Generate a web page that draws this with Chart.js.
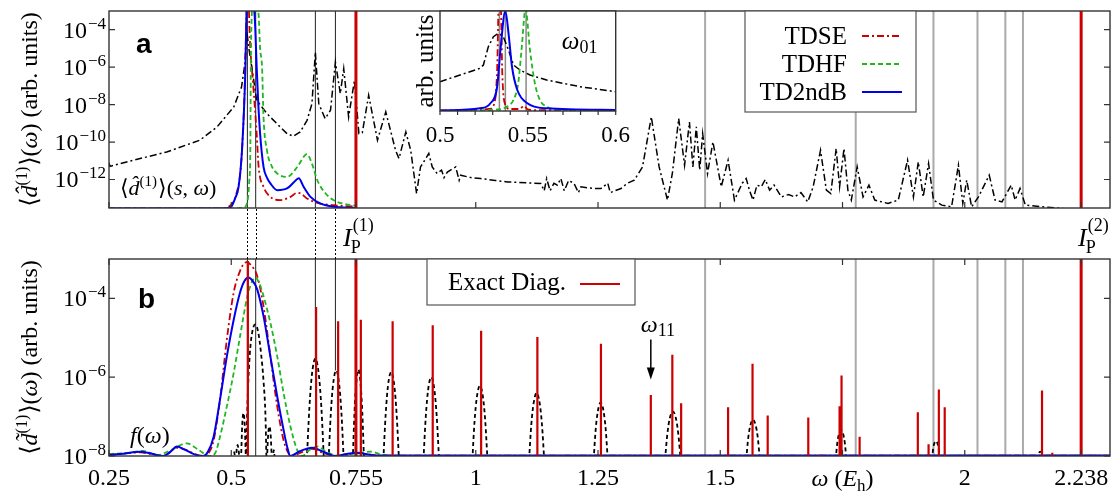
<!DOCTYPE html>
<html>
<head>
<meta charset="utf-8">
<title>Spectres dipolaires</title>
<script src="https://cdn.jsdelivr.net/npm/chart.js@4.4.1/dist/chart.umd.min.js"></script>
<style>
  html, body { margin: 0; padding: 0; background: #fff; }
  #figure { position: relative; width: 1113px; height: 497px; overflow: hidden; }
  #figure canvas { position: absolute; }
</style>
</head>
<body>
<div id="figure">
  <canvas id="panelB" width="1113" height="247" style="left:0;top:250px"></canvas>
  <canvas id="panelA" width="1113" height="259" style="left:0;top:0"></canvas>
  <canvas id="inset" width="250" height="165" style="left:390px;top:0"></canvas>
</div>
<script>
// axe des énergies, commun aux deux panneaux
const xMin = 0.25, xMax = 2.297;
const xTicks = [0.25, 0.5, 0.755, 1, 1.25, 1.5, 1.75, 2, 2.238];
const xTickLabels = ['0.25', '0.5', '0.755', '1', '1.25', '1.5', '', '2', '2.238'];

// bornes et graduations verticales
const yMinA = 3e-14, yMaxA = 1e-3;
const yTicksA = [1e-12, 1e-10, 1e-8, 1e-6, 1e-4];
const yMinB = 1e-8, yMaxB = 1e-3;
const yTicksB = [1e-8, 1e-6, 1e-4];

// lignes verticales (énergies de transition, seuils)
const levelLines = [0.533, 0.550, 0.672, 0.713];
const levelEndsB = [1e-8, 1e-8, 2.95e-6, 1.48e-6];
const greyLines = [1.469, 1.777, 1.936, 2.026, 2.083, 2.119];
const ipLines = [0.755, 2.238];
const ipLabelX = [0.7285, 2.2316];
const ipLabelSup = ['(1)', '(2)'];

// panneau a : [omega, log10 <d>]
const sCurveA = [
  [0.25,-11.1],[0.252,-11.3],[0.300,-10.97],[0.368,-10.53],[0.436,-9.90],[0.471,-9.19],[0.505,-8.13],
  [0.521,-7.06],[0.528,-5.8],[0.532,-4.1],[0.536,-5.0],[0.542,-6.0],[0.552,-7.77],[0.573,-8.48],
  [0.593,-9.01],[0.614,-9.55],[0.627,-9.69],[0.641,-9.46],[0.655,-8.84],[0.665,-7.95],[0.672,-5.2],
  [0.679,-7.95],[0.692,-8.75],[0.703,-8.30],[0.713,-5.73],[0.723,-7.41],[0.730,-6.08],[0.740,-8.66],
  [0.752,-6.70],[0.761,-9.55],[0.768,-9.5],[0.781,-7.50],[0.799,-9.90],[0.816,-8.39],[0.836,-10.44],
  [0.843,-10.88],[0.857,-9.46],[0.867,-10.44],[0.873,-11.6],[0.879,-12.75],[0.887,-11.33],[0.895,-11.0],
  [0.904,-10.61],[0.911,-11.33],[0.921,-11.68],[0.930,-11.5],[0.935,-11.9],[0.942,-11.6],[0.959,-11.33],
  [0.966,-12.04],[0.969,-11.77],[0.990,-11.9],[1.010,-11.95],[1.040,-12.05],[1.065,-12.13],[1.106,-12.18],
  [1.133,-12.21],[1.140,-12.6],[1.145,-11.95],[1.152,-12.6],[1.160,-12.2],[1.167,-12.30],[1.174,-11.95],
  [1.181,-12.6],[1.190,-12.05],[1.201,-12.21],[1.210,-12.7],[1.215,-12.39],[1.240,-12.48],[1.256,-12.48],
  [1.270,-12.2],[1.275,-12.7],[1.297,-12.48],[1.310,-12.2],[1.324,-12.04],[1.341,-11.33],[1.359,-8.66],
  [1.375,-11.33],[1.392,-13.1],[1.402,-11.68],[1.415,-8.75],[1.427,-11.24],[1.437,-8.93],[1.444,-11.33],
  [1.451,-9.19],[1.458,-11.5],[1.464,-9.55],[1.474,-11.68],[1.485,-9.99],[1.502,-12.39],[1.516,-10.97],
  [1.529,-13.1],[1.545,-12.2],[1.553,-11.95],[1.560,-12.6],[1.567,-13.1],[1.575,-12.3],[1.584,-12.39],
  [1.592,-12.0],[1.601,-12.57],[1.610,-12.3],[1.625,-12.93],[1.640,-12.8],[1.652,-12.93],[1.665,-12.7],
  [1.679,-13.2],[1.690,-12.39],[1.705,-10.44],[1.717,-12.57],[1.726,-12.75],[1.737,-10.35],[1.744,-12.39],
  [1.753,-10.35],[1.761,-12.57],[1.768,-13.1],[1.780,-11.33],[1.792,-12.93],[1.804,-12.3],[1.816,-13.1],
  [1.843,-13.28],[1.864,-13.1],[1.883,-10.97],[1.895,-12.93],[1.905,-11.06],[1.915,-12.93],[1.926,-11.15],
  [1.936,-13.1],[1.953,-13.37],[1.973,-13.46],[1.987,-11.24],[1.996,-13.28],[2.004,-12.04],[2.014,-13.46],
  [2.028,-12.93],[2.050,-11.77],[2.062,-13.1],[2.076,-13.2],[2.095,-12.3],[2.103,-13.1],[2.113,-12.48],
  [2.124,-13.37],[2.158,-13.46],[2.199,-13.55],[2.219,-13.6]
];
const tdseA = [
  [0.25,-13.55],[0.48,-13.55],[0.495,-13.45],[0.510,-12.8],[0.520,-11.2],[0.527,-7.5],[0.530,-4.5],
  [0.534,-1.5],[0.538,-4.5],[0.545,-7.0],[0.552,-9.55],[0.556,-11.33],[0.566,-12.39],[0.580,-12.93],
  [0.600,-13.1],[0.621,-12.93],[0.635,-12.71],[0.642,-12.75],[0.655,-13.01],[0.676,-13.25],[0.709,-13.37],
  [0.753,-13.45]
];
const tdhfA = [
  [0.25,-13.55],[0.50,-13.55],[0.525,-13.5],[0.533,-13.2],[0.537,-12.0],[0.539,-10.44],[0.540,-6.0],
  [0.542,-3.2],[0.549,-1.5],[0.556,-3.2],[0.559,-5.0],[0.563,-6.0],[0.566,-8.66],[0.573,-10.44],
  [0.583,-11.3],[0.594,-11.68],[0.614,-11.86],[0.635,-11.33],[0.651,-10.70],[0.655,-10.65],[0.665,-11.15],
  [0.676,-12.04],[0.693,-12.75],[0.709,-13.1],[0.730,-13.3],[0.755,-13.4]
];
const td2ndbA = [
  [0.25,-13.55],[0.48,-13.55],[0.498,-13.5],[0.508,-13.0],[0.515,-12.39],[0.522,-10.44],[0.529,-6.0],
  [0.531,-3.3],[0.537,-1.5],[0.548,-3.3],[0.552,-6.0],[0.555,-7.8],[0.559,-9.55],[0.566,-11.33],
  [0.573,-11.9],[0.580,-12.21],[0.594,-12.57],[0.614,-12.48],[0.628,-12.15],[0.638,-11.93],[0.648,-12.39],
  [0.662,-12.93],[0.682,-13.28],[0.709,-13.46],[0.753,-13.52]
];

// panneau b : [omega, log10 <d~>]
const tdseB = [
  [0.25,-7.98],[0.3135,-7.91],[0.361,-8.0],[0.389,-7.79],[0.443,-8.0],[0.455,-7.9],[0.464,-7.6],
  [0.477,-6.57],[0.491,-5.04],[0.505,-3.85],[0.518,-3.3],[0.525,-3.13],[0.532,-3.08],[0.540,-3.15],
  [0.553,-3.43],[0.566,-4.2],[0.580,-5.47],[0.594,-6.74],[0.607,-7.6],[0.617,-7.93],[0.624,-8.0],
  [0.645,-7.9],[0.665,-7.82],[0.690,-7.93],[0.712,-8.0],[0.758,-7.93],[0.800,-7.99],[2.297,-7.99]
];
const tdhfB = [
  [0.25,-7.95],[0.29,-7.92],[0.320,-7.87],[0.348,-7.98],[0.375,-7.86],[0.409,-7.68],[0.435,-7.86],
  [0.455,-8.0],[0.467,-7.93],[0.477,-7.51],[0.491,-6.74],[0.505,-5.89],[0.518,-4.96],[0.532,-4.0],
  [0.540,-3.65],[0.549,-3.47],[0.557,-3.6],[0.566,-3.94],[0.580,-4.62],[0.594,-5.47],[0.607,-6.4],
  [0.621,-7.25],[0.635,-7.85],[0.645,-8.0],[0.660,-7.85],[0.676,-7.76],[0.695,-7.9],[0.722,-8.0],
  [0.758,-7.93],[0.785,-7.89],[0.810,-7.97],[0.840,-8.0],[2.297,-7.99]
];
const td2ndbB = [
  [0.25,-7.97],[0.28,-7.94],[0.3135,-7.89],[0.34,-7.95],[0.361,-8.0],[0.375,-7.9],[0.389,-7.76],
  [0.405,-7.84],[0.425,-7.96],[0.443,-8.0],[0.452,-7.9],[0.464,-7.51],[0.477,-6.57],[0.491,-5.47],
  [0.505,-4.54],[0.518,-3.85],[0.527,-3.56],[0.535,-3.47],[0.544,-3.56],[0.553,-3.77],[0.566,-4.45],
  [0.580,-5.47],[0.594,-6.49],[0.607,-7.34],[0.615,-7.8],[0.621,-8.0],[0.640,-7.88],[0.665,-7.79],
  [0.690,-7.9],[0.713,-8.0],[0.735,-7.95],[0.758,-7.92],[0.785,-7.97],[0.805,-7.99],[1.2,-7.99],
  [1.6,-7.99],[2.0,-7.99],[2.297,-7.99]
];
// spectre fenêtré (tirets noirs), un lobe par tableau
const windowedB = [
  [[0.504,-8.1],[0.506,-7.9],[0.508,-8.1]],
  [[0.509,-8.1],[0.511,-7.85],[0.513,-7.72],[0.515,-7.85],[0.517,-8.1]],
  [[0.520,-8.1],[0.5225,-7.2],[0.525,-6.91],[0.5275,-7.2],[0.530,-8.1]],
  [[0.530,-8.1],[0.534,-6.4],[0.538,-5.4],[0.543,-4.85],[0.549,-4.66],[0.555,-4.85],[0.561,-5.4],[0.566,-6.1],[0.570,-7.0],[0.572,-8.1]],
  [[0.573,-8.1],[0.5755,-7.45],[0.578,-7.25],[0.5805,-7.45],[0.583,-8.1]],
  [[0.585,-8.1],[0.587,-7.85],[0.589,-8.1]],
  [[0.6545,-8.1],[0.6598,-6.77],[0.665,-5.93],[0.672,-5.53],[0.679,-5.93],[0.6843,-6.77],[0.6895,-8.1]],
  [[0.699,-8.1],[0.7036,-6.92],[0.7083,-6.18],[0.7145,-5.83],[0.7207,-6.18],[0.7254,-6.92],[0.730,-8.1]],
  [[0.7485,-8.1],[0.752,-6.9],[0.7555,-6.16],[0.760,-5.81],[0.7645,-6.16],[0.768,-6.9],[0.7715,-8.1]],
  [[0.811,-8.1],[0.8158,-6.94],[0.8206,-6.21],[0.827,-5.87],[0.8334,-6.21],[0.8382,-6.94],[0.843,-8.1]],
  [[0.893,-8.1],[0.8978,-7.0],[0.9026,-6.32],[0.909,-6.0],[0.9154,-6.32],[0.9202,-7.0],[0.925,-8.1]],
  [[0.993,-8.1],[0.9976,-7.11],[1.0023,-6.5],[1.0085,-6.22],[1.0147,-6.5],[1.0194,-7.11],[1.024,-8.1]],
  [[1.109,-8.1],[1.1136,-7.2],[1.1183,-6.66],[1.1245,-6.40],[1.1307,-6.66],[1.1354,-7.2],[1.140,-8.1]],
  [[1.241,-8.1],[1.2453,-7.32],[1.2497,-6.86],[1.2555,-6.64],[1.2613,-6.86],[1.2657,-7.32],[1.270,-8.1]],
  [[1.387,-8.1],[1.3918,-7.44],[1.3966,-7.05],[1.403,-6.87],[1.4094,-7.05],[1.4142,-7.44],[1.419,-8.1]],
  [[1.553,-8.1],[1.5572,-7.54],[1.5614,-7.23],[1.567,-7.08],[1.5726,-7.23],[1.5768,-7.54],[1.581,-8.1]],
  [[1.736,-8.1],[1.7393,-7.67],[1.7426,-7.45],[1.747,-7.34],[1.7514,-7.45],[1.7547,-7.67],[1.758,-8.1]],
  [[1.933,-8.1],[1.9354,-7.81],[1.9378,-7.68],[1.941,-7.62],[1.9442,-7.68],[1.9466,-7.81],[1.949,-8.1]],
  [[2.149,-8.1],[2.151,-7.95],[2.1545,-7.89],[2.158,-7.95],[2.160,-8.1]]
];
// diagonalisation exacte : position et hauteur (log10) des raies
const exactX = [0.534, 0.6735, 0.7186, 0.765, 0.830, 0.912, 1.011, 1.126, 1.256, 1.358, 1.402, 1.420, 1.516,
                1.566, 1.597, 1.680, 1.705, 1.744, 1.748, 1.785, 1.904, 1.926, 1.947, 1.959, 2.158, 2.179];
const exactLog = [-3.05, -4.22, -4.58, -4.54, -4.58, -4.68, -4.82, -4.98, -5.15, -6.45, -5.43, -6.66, -6.76,
                  -5.66, -6.97, -7.02, -7.97, -6.74, -5.96, -7.51, -6.89, -7.70, -6.31, -6.76, -6.34, -7.92];
const omega11 = { x: 1.358, from: 9.1e-6, to: 8.7e-7 };
const fLabel = { x: 0.293, y: 2.1e-8 };

// encart : omega dans [0.5, 0.6], unités arbitraires (0-100)
const insetTicks = [0.5, 0.51, 0.52, 0.53, 0.54, 0.55, 0.56, 0.57, 0.58, 0.59, 0.6];
const insetTickLabels = ['0.5', '', '', '', '', '0.55', '', '', '', '', '0.6'];
const insetLines = [0.5338, 0.5372, 0.549];
const sInset = [
  [0.500,29.3],[0.5114,36],[0.5228,42.7],[0.5247,46],[0.5275,64.3],[0.5304,74.3],[0.5333,77.7],
  [0.536,74.3],[0.539,61],[0.5418,46],[0.5455,41],[0.5512,36],[0.5607,31],[0.5797,24.3],[0.600,19.3]
];
const tdseInset = [
  [0.500,0.5],[0.520,1],[0.528,2],[0.531,8],[0.5325,40],[0.5335,108],[0.5345,108],[0.5355,35],
  [0.537,7],[0.540,2],[0.545,2],[0.548,5],[0.5495,2],[0.552,1],[0.600,0.5]
];
const tdhfInset = [
  [0.500,0],[0.5325,1.5],[0.538,4.3],[0.5418,11],[0.5445,27.7],[0.5464,61],[0.5487,102],[0.5512,61],
  [0.554,27.7],[0.5569,11],[0.5607,4.3],[0.570,1],[0.600,0]
];
const td2ndbInset = [
  [0.500,0.5],[0.5228,2.7],[0.5287,7.7],[0.5325,24],[0.5344,61],[0.5372,100],[0.539,77.7],[0.541,44],
  [0.544,21],[0.5497,7.7],[0.5607,2.7],[0.600,1]
];

// ---- styles ----
const SERIF = '"Liberation Serif", "DejaVu Serif", serif';
const SANS = '"Liberation Sans", "DejaVu Sans", sans-serif';
const fnt = (size, style) => (style ? style + ' ' : '') + size + 'px ' + SERIF;
const RED = '#cc0000', GREEN = '#1fb81f', BLUE = '#0000ee', GREY = '#aaaaaa', FRAME = '#333333';
const DASHDOT = [7, 3, 2, 3], DASHED = [5, 3];

// ---- conversions ----
const logPts = arr => arr.map(([x, l]) => ({ x, y: Math.pow(10, l) }));
const linPts = arr => arr.map(([x, v]) => ({ x, y: v }));
function vlines(xs, lo, hi) {
  const pts = [];
  xs.forEach((x, i) => {
    pts.push({ x, y: Array.isArray(lo) ? lo[i] : lo }, { x, y: hi }, { x, y: null });
  });
  return pts;
}
function bars(xs, logs, base) {
  const pts = [];
  xs.forEach((x, i) => pts.push({ x, y: base }, { x, y: Math.pow(10, logs[i]) }, { x, y: null }));
  return pts;
}
const lobes = windowedB.flatMap(l => [...logPts(l), { x: l[l.length - 1][0], y: null }]);

// ---- texte composé (indices, exposants) ----
function rich(ctx, x, y, parts, align) {
  let w = 0;
  parts.forEach(p => { ctx.font = p[1]; w += ctx.measureText(p[0]).width + (p[3] || 0); });
  let cx = align === 'center' ? x - w / 2 : (align === 'right' ? x - w : x);
  parts.forEach(p => {
    ctx.font = p[1];
    ctx.fillText(p[0], cx, y + (p[2] || 0));
    cx += ctx.measureText(p[0]).width + (p[3] || 0);
  });
}
function yTitle(ctx, x, y, parts) {
  ctx.save();
  ctx.translate(x, y);
  ctx.rotate(-Math.PI / 2);
  rich(ctx, 0, 0, parts, 'center');
  ctx.restore();
}
function powerLabels(chart) {
  const { ctx, chartArea: a, scales: { y } } = chart;
  y.ticks.forEach(t => {
    const py = y.getPixelForValue(t.value);
    const sup = '\u2212' + Math.abs(Math.round(Math.log10(t.value)));
    ctx.font = fnt(17);
    const ws = ctx.measureText(sup).width;
    ctx.fillText(sup, a.left - 3 - ws, py - 1);
    ctx.font = fnt(24);
    ctx.fillText('10', a.left - 4 - ws - ctx.measureText('10').width, py + 8);
  });
}
function line(ctx, x1, y1, x2, y2) { ctx.moveTo(x1, y1); ctx.lineTo(x2, y2); }

// cadre et graduations tournées vers l'intérieur
function framePlugin(sides) {
  return {
    id: 'frame',
    afterDatasetsDraw(chart) {
      const { ctx, chartArea: a, scales: { x, y } } = chart;
      ctx.save();
      ctx.fillStyle = '#000';
      ctx.strokeStyle = FRAME;
      ctx.lineWidth = 1.4;
      ctx.strokeRect(a.left, a.top, a.right - a.left, a.bottom - a.top);
      ctx.lineWidth = 1.2;
      ctx.beginPath();
      const L = sides.len || 6;
      x.ticks.forEach(t => {
        const px = x.getPixelForValue(t.value);
        if (sides.bottom) line(ctx, px, a.bottom, px, a.bottom - L);
        if (sides.top) line(ctx, px, a.top, px, a.top + L);
        if (sides.bottomOut) line(ctx, px, a.bottom, px, a.bottom + L);
      });
      y.ticks.forEach(t => {
        const py = y.getPixelForValue(t.value);
        if (sides.left) line(ctx, a.left, py, a.left + L, py);
        if (sides.right) line(ctx, a.right, py, a.right - L, py);
      });
      ctx.stroke();
      ctx.restore();
    }
  };
}

function baseOptions(xmin, xmax, ticksX, labelsX, yType, ymin, ymax, ticksY, axisW, axisH, pad) {
  return {
    responsive: false,
    animation: false,
    events: [],
    layout: { padding: pad },
    elements: { point: { radius: 0 }, line: { tension: 0, fill: false, borderCapStyle: 'butt' } },
    plugins: { legend: { display: false }, tooltip: { enabled: false } },
    scales: {
      x: {
        type: 'linear', min: xmin, max: xmax, bounds: 'data',
        afterBuildTicks: s => { s.ticks = ticksX.map(v => ({ value: v })); },
        afterFit: s => { s.height = axisH; },
        grid: { display: false }, border: { display: false },
        ticks: {
          display: !!labelsX, autoSkip: false, maxRotation: 0, minRotation: 0, padding: 0,
          color: '#000', font: { family: SERIF, size: 24 },
          callback: (v, i) => labelsX ? labelsX[i] : ''
        }
      },
      y: {
        type: yType, min: ymin, max: ymax, bounds: 'data',
        afterBuildTicks: s => { s.ticks = ticksY.map(v => ({ value: v })); },
        afterFit: s => { s.width = axisW; },
        grid: { display: false }, border: { display: false },
        ticks: { display: false }
      }
    }
  };
}

// ================= panneau a =================
const decorA = {
  id: 'decorA',
  afterDraw(chart) {
    const { ctx, chartArea: a, scales: { x } } = chart;
    ctx.save();
    ctx.fillStyle = '#000';
    ctx.textAlign = 'left';
    ctx.textBaseline = 'alphabetic';
    powerLabels(chart);
    yTitle(ctx, 37, (a.top + a.bottom) / 2, [
      ['\u27e8', fnt(24)], ['d\u0302', fnt(24, 'italic')], ['(1)', fnt(16), -10, 1], ['\u27e9(', fnt(24)],
      ['\u03c9', fnt(24, 'italic')], [') (arb. units)', fnt(24)]
    ]);
    ctx.font = 'bold 28px ' + SANS;
    ctx.fillText('a', a.left + 27, a.top + 42);
    rich(ctx, a.left + 11, a.top + 184, [
      ['\u27e8', fnt(22)], ['d\u0302', fnt(22, 'italic')], ['(1)', fnt(15), -9, 1], ['\u27e9(', fnt(22)],
      ['s', fnt(22, 'italic')], [', ', fnt(22)], ['\u03c9', fnt(22, 'italic')], [')', fnt(22)]
    ]);
    // seuils d'ionisation
    ipLabelX.forEach((lx, i) => {
      const px = x.getPixelForValue(lx);
      ctx.font = fnt(26, 'italic');
      const wI = ctx.measureText('I').width;
      ctx.fillText('I', px, 246);
      ctx.font = fnt(18);
      ctx.fillText('P', px + wI - 1, 253);
      ctx.fillText(ipLabelSup[i], px + wI + 1, 231);
    });
    // pointillés vers le panneau b
    ctx.strokeStyle = '#000';
    ctx.lineWidth = 1;
    ctx.setLineDash([2, 2]);
    ctx.beginPath();
    levelLines.forEach(v => {
      const px = Math.round(x.getPixelForValue(v)) + 0.5;
      line(ctx, px, a.bottom + 1, px, chart.height);
    });
    ctx.stroke();
    ctx.setLineDash([]);
    // légende
    const box = { x: 745, y: a.top, w: 171, h: 101 };
    ctx.fillStyle = '#fff';
    ctx.fillRect(box.x, box.y, box.w, box.h);
    ctx.strokeStyle = '#555';
    ctx.lineWidth = 1.2;
    ctx.strokeRect(box.x, box.y, box.w, box.h);
    const rows = [36, 64, 92];
    chart.data.datasets.filter(d => d.inLegend).forEach((d, i) => {
      ctx.fillStyle = '#000';
      ctx.font = fnt(25);
      ctx.textAlign = 'right';
      ctx.fillText(d.label, 847, rows[i] + 8);
      ctx.strokeStyle = d.borderColor;
      ctx.lineWidth = d.borderWidth;
      ctx.setLineDash(d.borderDash || []);
      ctx.beginPath();
      line(ctx, 862, rows[i], 902, rows[i]);
      ctx.stroke();
      ctx.setLineDash([]);
    });
    ctx.restore();
  }
};

// ================= panneau b =================
const decorB = {
  id: 'decorB',
  afterDraw(chart) {
    const { ctx, chartArea: a, scales: { x, y } } = chart;
    ctx.save();
    ctx.fillStyle = '#000';
    ctx.textAlign = 'left';
    ctx.textBaseline = 'alphabetic';
    powerLabels(chart);
    yTitle(ctx, 37, (a.top + a.bottom) / 2, [
      ['\u27e8', fnt(24)], ['d\u0303', fnt(24, 'italic')], ['(1)', fnt(16), -10, 1], ['\u27e9(', fnt(24)],
      ['\u03c9', fnt(24, 'italic')], [') (arb. units)', fnt(24)]
    ]);
    rich(ctx, x.getPixelForValue(1.75), 236, [
      ['\u03c9', fnt(24, 'italic')], [' (', fnt(24)], ['E', fnt(24, 'italic')], ['h', fnt(17), 5], [')', fnt(24)]
    ], 'center');
    ctx.font = 'bold 28px ' + SANS;
    ctx.fillText('b', a.left + 29, a.top + 49);
    rich(ctx, x.getPixelForValue(fLabel.x), y.getPixelForValue(fLabel.y), [
      ['f', fnt(24, 'italic')], ['(', fnt(24)], ['\u03c9', fnt(24, 'italic')], [')', fnt(24)]
    ]);
    // flèche omega_11
    const ax = x.getPixelForValue(omega11.x);
    const y1 = y.getPixelForValue(omega11.from), y2 = y.getPixelForValue(omega11.to);
    ctx.strokeStyle = '#000';
    ctx.lineWidth = 1.5;
    ctx.beginPath();
    line(ctx, ax, y1, ax, y2 - 10);
    ctx.stroke();
    ctx.beginPath();
    ctx.moveTo(ax - 4, y2 - 12);
    ctx.lineTo(ax + 4, y2 - 12);
    ctx.lineTo(ax, y2);
    ctx.closePath();
    ctx.fill();
    rich(ctx, ax - 10, y1 - 7, [['\u03c9', fnt(24, 'italic')], ['11', fnt(18), 4]]);
    // légende
    const box = { x: 427, y: a.top, w: 208, h: 46 };
    ctx.fillStyle = '#fff';
    ctx.fillRect(box.x, box.y, box.w, box.h);
    ctx.strokeStyle = '#555';
    ctx.lineWidth = 1.2;
    ctx.strokeRect(box.x, box.y, box.w, box.h);
    const d = chart.data.datasets.find(s => s.inLegend);
    ctx.fillStyle = '#000';
    ctx.font = fnt(25);
    ctx.fillText(d.label, 448, a.top + 31);
    ctx.strokeStyle = d.borderColor;
    ctx.lineWidth = 2;
    ctx.beginPath();
    line(ctx, 580, a.top + 25, 620, a.top + 25);
    ctx.stroke();
    ctx.restore();
  }
};

// ================= encart =================
const insetBg = {
  id: 'insetBg',
  beforeDatasetsDraw(chart) {
    const { ctx, chartArea: a } = chart;
    ctx.save();
    ctx.fillStyle = '#fff';
    ctx.fillRect(a.left, a.top, a.right - a.left, a.bottom - a.top);
    ctx.restore();
  },
  afterDraw(chart) {
    const { ctx, chartArea: a, scales: { x } } = chart;
    ctx.save();
    ctx.fillStyle = '#000';
    ctx.textAlign = 'left';
    ctx.textBaseline = 'alphabetic';
    yTitle(ctx, 43, (a.top + a.bottom) / 2, [['arb. units', fnt(25)]]);
    rich(ctx, x.getPixelForValue(0.5693), a.top + 38, [['\u03c9', fnt(25, 'italic')], ['01', fnt(18), 4]]);
    ctx.restore();
  }
};

function drawAll() {
  Chart.defaults.font.family = SERIF;

  new Chart(document.getElementById('panelB'), {
    type: 'line',
    data: {
      datasets: [
        { label: 'ip', data: vlines(ipLines, yMinB, yMaxB), borderColor: RED, borderWidth: 3, order: 0 },
        { label: 'Exact Diag.', inLegend: true, data: bars(exactX, exactLog, yMinB), borderColor: RED, borderWidth: 2.2, order: 1 },
        { label: 'TD2ndB', data: logPts(td2ndbB), borderColor: BLUE, borderWidth: 2, cubicInterpolationMode: 'monotone', order: 2 },
        { label: 'TDHF', data: logPts(tdhfB), borderColor: GREEN, borderWidth: 1.8, borderDash: DASHED, cubicInterpolationMode: 'monotone', order: 3 },
        { label: 'TDSE', data: logPts(tdseB), borderColor: RED, borderWidth: 1.8, borderDash: DASHDOT, cubicInterpolationMode: 'monotone', order: 4 },
        { label: 'window', data: lobes, borderColor: '#000', borderWidth: 1.8, borderDash: [4, 3], cubicInterpolationMode: 'monotone', order: 5 },
        { label: 'levels', data: vlines(levelLines, levelEndsB, yMaxB), borderColor: '#222', borderWidth: 1, order: 6 },
        { label: 'grey', data: vlines(greyLines, yMinB, yMaxB), borderColor: GREY, borderWidth: 2, order: 7 }
      ]
    },
    options: baseOptions(xMin, xMax, xTicks, xTickLabels, 'logarithmic', yMinB, yMaxB, yTicksB, 109, 41,
                         { top: 9, right: 3, left: 0, bottom: 0 }),
    plugins: [framePlugin({ bottom: true, top: true, left: true, right: true }), decorB]
  });

  new Chart(document.getElementById('panelA'), {
    type: 'line',
    data: {
      datasets: [
        { label: 'TDSE', inLegend: true, data: logPts(tdseA), borderColor: RED, borderWidth: 1.8, borderDash: DASHDOT, cubicInterpolationMode: 'monotone', order: 4 },
        { label: 'TDHF', inLegend: true, data: logPts(tdhfA), borderColor: GREEN, borderWidth: 1.8, borderDash: DASHED, cubicInterpolationMode: 'monotone', order: 3 },
        { label: 'TD2ndB', inLegend: true, data: logPts(td2ndbA), borderColor: BLUE, borderWidth: 2, cubicInterpolationMode: 'monotone', order: 2 },
        { label: 's', data: logPts(sCurveA), borderColor: '#000', borderWidth: 1.5, borderDash: DASHDOT, order: 5 },
        { label: 'ip', data: vlines(ipLines, yMinA, yMaxA), borderColor: RED, borderWidth: 3, order: 0 },
        { label: 'levels', data: vlines(levelLines, yMinA, yMaxA), borderColor: '#222', borderWidth: 1, order: 6 },
        { label: 'grey', data: vlines(greyLines, yMinA, yMaxA), borderColor: GREY, borderWidth: 2, order: 7 }
      ]
    },
    options: baseOptions(xMin, xMax, xTicks, null, 'logarithmic', yMinA, yMaxA, yTicksA, 109, 51,
                         { top: 11, right: 3, left: 0, bottom: 0 }),
    plugins: [framePlugin({ bottom: true, left: true, right: true }), decorA]
  });

  const insetOpts = baseOptions(0.5, 0.6, insetTicks, insetTickLabels, 'linear', 0, 100, [], 50, 54,
                                { top: 11, right: 24.3, left: 0, bottom: 0 });
  insetOpts.scales.x.ticks.padding = 3;
  insetOpts.scales.x.ticks.font = { family: SERIF, size: 23 };

  new Chart(document.getElementById('inset'), {
    type: 'line',
    data: {
      datasets: [
        { label: 'TD2ndB', data: linPts(td2ndbInset), borderColor: BLUE, borderWidth: 2, cubicInterpolationMode: 'monotone', order: 1 },
        { label: 'TDHF', data: linPts(tdhfInset), borderColor: GREEN, borderWidth: 1.8, borderDash: DASHED, cubicInterpolationMode: 'monotone', order: 2 },
        { label: 'TDSE', data: linPts(tdseInset), borderColor: RED, borderWidth: 1.8, borderDash: DASHDOT, cubicInterpolationMode: 'monotone', order: 3 },
        { label: 's', data: linPts(sInset), borderColor: '#000', borderWidth: 1.5, borderDash: DASHDOT, order: 4 },
        { label: 'lines', data: vlines(insetLines, 0, 100), borderColor: '#888', borderWidth: 1.5, order: 5 }
      ]
    },
    options: insetOpts,
    plugins: [insetBg, framePlugin({ bottomOut: true, len: 4 })]
  });
}

// attendre les polices système avant de dessiner sur les canvas
if (document.fonts && document.fonts.load) {
  Promise.all([
    document.fonts.load('24px "Liberation Serif"'),
    document.fonts.load('italic 24px "Liberation Serif"'),
    document.fonts.load('bold 28px "Liberation Sans"')
  ]).then(drawAll, drawAll);
} else {
  drawAll();
}
</script>
</body>
</html>
